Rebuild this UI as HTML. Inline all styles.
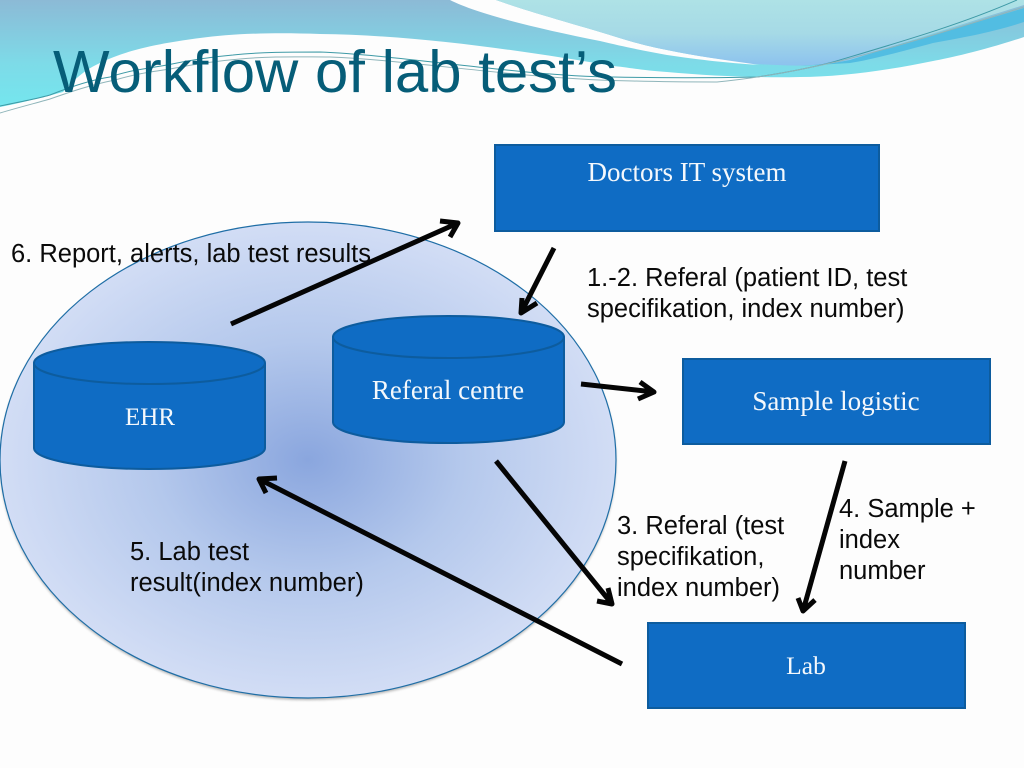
<!DOCTYPE html>
<html><head><meta charset="utf-8"><style>
html,body{margin:0;padding:0;background:#fdfdfd}
svg{display:block}
.s{font-family:"Liberation Sans",sans-serif;font-size:25.5px;fill:#0a0a0a}
.b{font-family:"Liberation Serif",serif;font-size:27px;fill:#f4f8fc;text-anchor:middle}
</style></head><body>
<svg width="1024" height="768" viewBox="0 0 1024 768" xmlns="http://www.w3.org/2000/svg">
<defs>
<linearGradient id="g1" x1="0" y1="0" x2="0" y2="1"><stop offset="0" stop-color="#8cbad6"/><stop offset=".6" stop-color="#7ddbe8"/><stop offset="1" stop-color="#74e6ee"/></linearGradient>
<linearGradient id="g2" gradientUnits="userSpaceOnUse" x1="0" y1="0" x2="0" y2="66"><stop offset="0" stop-color="#aee2e6"/><stop offset=".5" stop-color="#a6dae6"/><stop offset="1" stop-color="#8cc2ee"/></linearGradient>
<radialGradient id="g3" cx=".5" cy=".5" r=".5"><stop offset="0" stop-color="#8aa6de"/><stop offset=".5" stop-color="#b4c8ec"/><stop offset="1" stop-color="#d2ddf5"/></radialGradient>
<filter id="sh" x="-5%" y="-5%" width="110%" height="110%"><feGaussianBlur stdDeviation="1.2"/></filter>
</defs>
<rect width="1024" height="768" fill="#fdfdfd"/>
<!-- header band -->
<path d="M0 0H1024V37C985 50 950 58 933 61C890 70 840 77 800 77C760 78 710 76 667 72C640 70 625 67 613 66C530 52 420 35 320 34C270 32 230 34 200 38C170 42 130 48 100 63C80 72 70 85 63 92C40 98 20 103 0 107Z" fill="url(#g1)"/>
<path d="M1024 22C990 33 960 38 933 43C900 52 870 60 850 63L800 66C840 62 900 45 1024 8Z" fill="#52bde2"/>
<!-- white swoosh -->
<path d="M450 0C480 15 540 29 600 41C625 47 645 51 667 55C700 60 730 63 753 64.500L760 64C725 60 695 56 667 50C640 45 620 38 600 32C560 20 530 12 496 0Z" fill="#fdfdfd"/>
<!-- pale top right -->
<path d="M496 0H1024V5C950 28 900 44 850 60C830 64 810 66 790 65.500L753 64C725 60 695 56 667 50C640 45 620 38 600 32C560 20 530 12 496 0Z" fill="url(#g2)"/>
<!-- thin lines -->
<path d="M0 106C20 102 40 98 50 95C70 87 90 80 110 77C130 70 150 68 167 65C190 60 210 57 233 55C260 52 290 52 320 52C400 55 520 76 613 77C660 78 710 78 757 77C790 72 810 68 833 62C900 42 960 25 1017 0" fill="none" stroke="#3e9aa6" stroke-width="1"/>
<path d="M0 113C20 107 40 102 50 99C70 92 90 85 115 80C135 74 150 72 170 69C195 64 215 61 240 59C270 56 300 57 330 57C410 60 530 80 633 81C670 82 700 82 717 82C760 78 800 70 840 61C900 46 960 27 1024 7" fill="none" stroke="#8fb5ba" stroke-width="1"/>
<text x="53" y="92" font-family="'Liberation Sans',sans-serif" font-size="59" fill="#065d78" textLength="564" lengthAdjust="spacingAndGlyphs">Workflow of lab test’s</text>
<!-- big ellipse -->
<ellipse cx="308" cy="462" rx="308" ry="238" fill="#555" opacity=".45" filter="url(#sh)"/>
<ellipse cx="308" cy="460" rx="308" ry="238" fill="url(#g3)" stroke="#1f6ea6" stroke-width="1.2"/>
<!-- boxes -->
<g fill="#0f6cc4" stroke="#0d5c9e" stroke-width="2">
<rect x="495" y="145" width="384" height="86"/>
<rect x="683" y="359" width="307" height="85"/>
<rect x="648" y="623" width="317" height="85"/>
<path d="M34 363V448C34 460 86 469 149 469C213 469 265 460 265 448V363C265 351 213 342 149 342C86 342 34 351 34 363Z"/>
<path d="M34 363C34 375 86 384 149 384C213 384 265 375 265 363" fill="none"/>
<path d="M333 337V422C333 434 385 443 448 443C512 443 564 434 564 422V337C564 325 512 316 448 316C385 316 333 325 333 337Z"/>
<path d="M333 337C333 349 385 358 448 358C512 358 564 349 564 337" fill="none"/>
</g>
<text class="b" x="687" y="181">Doctors IT system</text>
<text class="b" x="836" y="410">Sample logistic</text>
<text class="b" x="806" y="674" style="font-size:25.5px">Lab</text>
<text class="b" x="150" y="425" style="font-size:25px">EHR</text>
<text class="b" x="448" y="399">Referal centre</text>
<!-- arrows -->
<g fill="none" stroke="#050505" stroke-width="5" stroke-linejoin="round">
<path d="M231 324L458 223M440 221L458 223L450 237"/>
<path d="M554 248L521 313M522 298L521 313L537 303"/>
<path d="M581 384L654 392M640 382L654 392L638 399"/>
<path d="M496 461L612 604M608 588L612 604L597 601"/>
<path d="M845 461L803 611M798 598L803 611L815 600"/>
<path d="M622 664L259 479M277 478L259 479L266 493"/>
</g>
<!-- labels -->
<text class="s" x="11" y="262">6. Report, alerts, lab test results</text>
<text class="s" x="587" y="286">1.-2. Referal (patient ID, test</text>
<text class="s" x="587" y="317">specifikation, index number)</text>
<text class="s" x="617" y="534">3. Referal (test</text>
<text class="s" x="617" y="565">specifikation,</text>
<text class="s" x="617" y="596">index number)</text>
<text class="s" x="839" y="517">4. Sample +</text>
<text class="s" x="839" y="548">index</text>
<text class="s" x="839" y="579">number</text>
<text class="s" x="130" y="560">5. Lab test</text>
<text class="s" x="130" y="591">result(index number)</text>
</svg>
</body></html>
